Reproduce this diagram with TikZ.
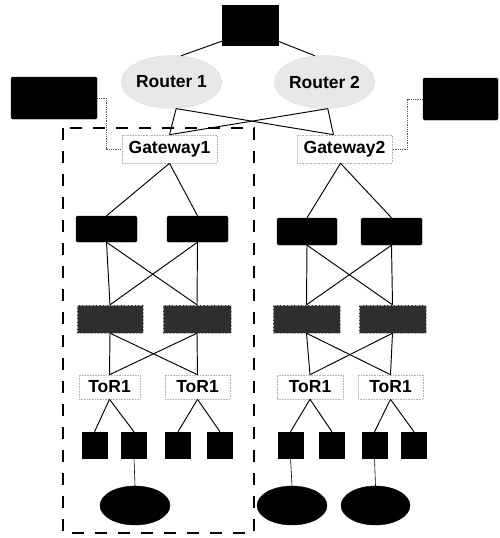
\documentclass[tikz,border=0pt]{standalone}
\usepackage{fontspec}
\setmainfont{Liberation Sans}
\usetikzlibrary{shapes.geometric,calc}
\tikzset{
  lbl/.style={font=\fontsize{17.5}{18}\selectfont\bfseries, text=black},
  blk/.style={draw=black, fill=black, inner sep=0pt, rounded corners=1.5pt},
  grybox/.style={draw=gray!60, densely dotted, fill=black!82, inner sep=0pt},
  dotbox/.style={draw=gray!60, densely dotted, line width=0.6pt, inner sep=0pt, lbl},
  router/.style={ellipse, draw=gray!60, densely dotted, fill=gray!18, inner sep=0pt, lbl},
  srv/.style={draw=black, fill=black, inner sep=0pt, minimum width=25pt, minimum height=26pt},
  host/.style={ellipse, draw=black, fill=black, inner sep=0pt, minimum height=39pt},
  link/.style={draw=black, line width=0.95pt},
  dlink/.style={draw=gray!70!black, densely dotted, line width=0.8pt},
}
\begin{document}
\begin{tikzpicture}[x=1pt,y=-1pt]
\useasboundingbox (0,0) rectangle (499,538);
\fill[white] (0,0) rectangle (499,538);

% dashed enclosure
\draw[line width=2.4pt, dash pattern=on 12pt off 11pt] (63,128) rectangle (254,533);

% top box
\node[blk, rounded corners=0pt, minimum width=56pt, minimum height=40pt] (top) at (250,25) {};
% side boxes
\node[blk, minimum width=86pt, minimum height=42pt] (lb) at (54,98) {};
\node[blk, minimum width=75pt, minimum height=42pt] (rb) at (460.5,99) {};

% routers
\node[router, minimum width=73pt, minimum height=53pt] (r1) at (171.5,82) {Router 1};
\node[router, minimum width=75pt, minimum height=53pt] (r2) at (324.5,82) {Router 2};

% gateways
\node[dotbox, minimum width=95pt, minimum height=28pt] (gw1) at (169.5,149) {Gateway1};
\node[dotbox, minimum width=95pt, minimum height=28pt] (gw2) at (344.5,149) {Gateway2};

% aggregation (black)
\node[blk, minimum width=61pt, minimum height=26pt] (a1) at (106.5,229) {};
\node[blk, minimum width=61pt, minimum height=26pt] (a2) at (197.5,229) {};
\node[blk, minimum width=60pt, minimum height=27pt] (a3) at (307,231.5) {};
\node[blk, minimum width=61pt, minimum height=27pt] (a4) at (391.5,231.5) {};

% gray boxes
\node[grybox, minimum width=66pt, minimum height=28pt] (g1) at (110,319) {};
\node[grybox, minimum width=68pt, minimum height=28pt] (g2) at (197,319) {};
\node[grybox, minimum width=67pt, minimum height=28pt] (g3) at (306.5,319) {};
\node[grybox, minimum width=67pt, minimum height=28pt] (g4) at (392.5,319) {};

% ToR
\node[dotbox, minimum width=61pt, minimum height=24pt] (t1) at (109.5,387) {ToR1};
\node[dotbox, minimum width=65pt, minimum height=24pt] (t2) at (197.5,387) {ToR1};
\node[dotbox, minimum width=66pt, minimum height=24pt] (t3) at (310,387) {ToR1};
\node[dotbox, minimum width=65pt, minimum height=24pt] (t4) at (390.5,387) {ToR1};

% servers
\node[srv] (s1) at (94.5,445) {};
\node[srv] (s2) at (134,445) {};
\node[srv] (s3) at (178,445) {};
\node[srv] (s4) at (220,445) {};
\node[srv] (s5) at (290.5,445) {};
\node[srv] (s6) at (332,445) {};
\node[srv] (s7) at (374.5,445) {};
\node[srv] (s8) at (414,445) {};

% hosts
\node[host, minimum width=70pt] (e1) at (135,505.5) {};
\node[host, minimum width=70pt] (e2) at (292,505.5) {};
\node[host, minimum width=69pt] (e3) at (375.5,505.5) {};

% top to routers
\draw[link] ($(top.south west)+(0,-4)$) -- (r1.70);
\draw[link] ($(top.south east)+(0,-4)$) -- (r2.110);

% routers to gateways
\coordinate (g2in) at ($(gw2.north)+(-11,0)$);
\draw[link] (r1.-80) -- (gw1.north);
\draw[link] (r1.-80) -- (g2in);
\draw[link] (r2.-83) -- (g2in);
\draw[link] (r2.-83) -- (gw1.north);

% side boxes to gateways
\draw[dlink] (lb.east) -- ++(9,0) |- (gw1.west);
\draw[dlink] (rb.west) -- ++(-15,0) |- (gw2.east);

% gateways to aggregation
\coordinate (g2out) at ($(gw2.south)+(-4,0)$);
\draw[link] (gw1.south) -- (a1.north);
\draw[link] (gw1.south) -- (a2.north);
\draw[link] (g2out) -- (a3.north);
\draw[link] (g2out) -- (a4.north);

% aggregation to gray
\foreach \u in {a1,a2} \foreach \v in {g1,g2} \draw[link] (\u.south) -- (\v.north);
\foreach \u in {a3,a4} \foreach \v in {g3,g4} \draw[link] (\u.south) -- (\v.north);

% gray to ToR
\foreach \u in {g1,g2} \foreach \v in {t1,t2} \draw[link] (\u.south) -- (\v.north);
\foreach \u in {g3,g4} \foreach \v in {t3,t4} \draw[link] (\u.south) -- (\v.north);

% ToR to servers
\draw[link] (t1.south) -- (s1.north);
\draw[link] (t1.south) -- (s2.north);
\draw[link] (t2.south) -- (s3.north);
\draw[link] (t2.south) -- (s4.north);
\draw[link] (t3.south) -- (s5.north);
\draw[link] (t3.south) -- (s6.north);
\draw[link] (t4.south) -- (s7.north);
\draw[link] (t4.south) -- (s8.north);

% servers to hosts
\draw[link, line width=0.6pt] (s2.south) -- (e1.north);
\draw[link, line width=0.6pt] (s5.south) -- (e2.north);
\draw[link, line width=0.6pt] (s7.south) -- (e3.north);
\end{tikzpicture}
\end{document}
